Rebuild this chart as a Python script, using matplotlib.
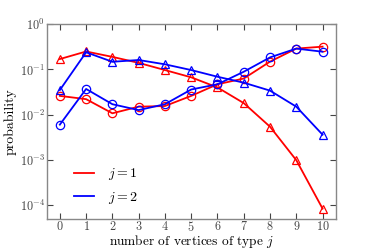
import numpy as np
import matplotlib
matplotlib.use('Agg')
import matplotlib.pyplot as plt

plt.rcParams['font.family'] = 'serif'
plt.rcParams['font.serif'] = ['cmr10', 'DejaVu Serif']
plt.rcParams['mathtext.fontset'] = 'cm'
plt.rcParams['axes.formatter.use_mathtext'] = True

x = np.arange(11)
# type 1 vertices
j1_tri = [0.17, 0.25, 0.19, 0.14, 0.097, 0.067, 0.040, 0.018, 0.0054, 0.00098, 8.3e-5]
j1_circ = [0.026, 0.022, 0.0107, 0.015, 0.0155, 0.026, 0.047, 0.063, 0.149, 0.29, 0.32]
# type 2 vertices
j2_tri = [0.035, 0.24, 0.148, 0.162, 0.13, 0.097, 0.069, 0.051, 0.034, 0.015, 0.0036]
j2_circ = [0.006, 0.037, 0.017, 0.0126, 0.017, 0.036, 0.047, 0.089, 0.185, 0.29, 0.247]

fig = plt.figure(figsize=(3.74, 2.49), dpi=100)
ax = fig.add_axes([46.7/374, 1 - 218.5/249, (335.7 - 46.7)/374, (218.5 - 24.3)/249])

ms = 6
lw = 1.3
ax.plot(x, j1_tri, '-', color='red', lw=lw, marker='^', ms=ms, mfc='none', mec='red', mew=0.9)
ax.plot(x, j1_circ, '-', color='red', lw=lw, marker='o', ms=ms, mfc='none', mec='red', mew=0.9)
ax.plot(x, j2_tri, '-', color='blue', lw=lw, marker='^', ms=ms, mfc='none', mec='blue', mew=0.9)
ax.plot(x, j2_circ, '-', color='blue', lw=lw, marker='o', ms=ms, mfc='none', mec='blue', mew=0.9)

# legend: lines only
h1, = ax.plot([], [], color='red', lw=lw, label='$j=1$')
h2, = ax.plot([], [], color='blue', lw=lw, label='$j=2$')
ax.legend(handles=[h1, h2], loc='lower left', frameon=False, fontsize=10,
          handlelength=1.5, handletextpad=1.0, labelspacing=0.55,
          bbox_to_anchor=(0.05, 0.0))

ax.set_yscale('log')
ax.set_ylim(10**-4.3, 1)
ax.set_xlim(-0.5, 10.5)
ax.set_xticks(x)
ax.set_yticks([1e-4, 1e-3, 1e-2, 1e-1, 1])
ax.yaxis.set_minor_locator(matplotlib.ticker.NullLocator())

ax.tick_params(direction='in', top=True, right=True, length=4, width=0.8,
               labelsize=8.8, colors='#444444', pad=1.2)
for s in ax.spines.values():
    s.set_color('#888888')
    s.set_linewidth(1.0)

ax.set_xlabel(r'number of vertices of type $j$', fontsize=9.6, labelpad=-1)
ax.set_ylabel('probability', fontsize=10, labelpad=2)

fig.savefig('out.png', dpi=100)
